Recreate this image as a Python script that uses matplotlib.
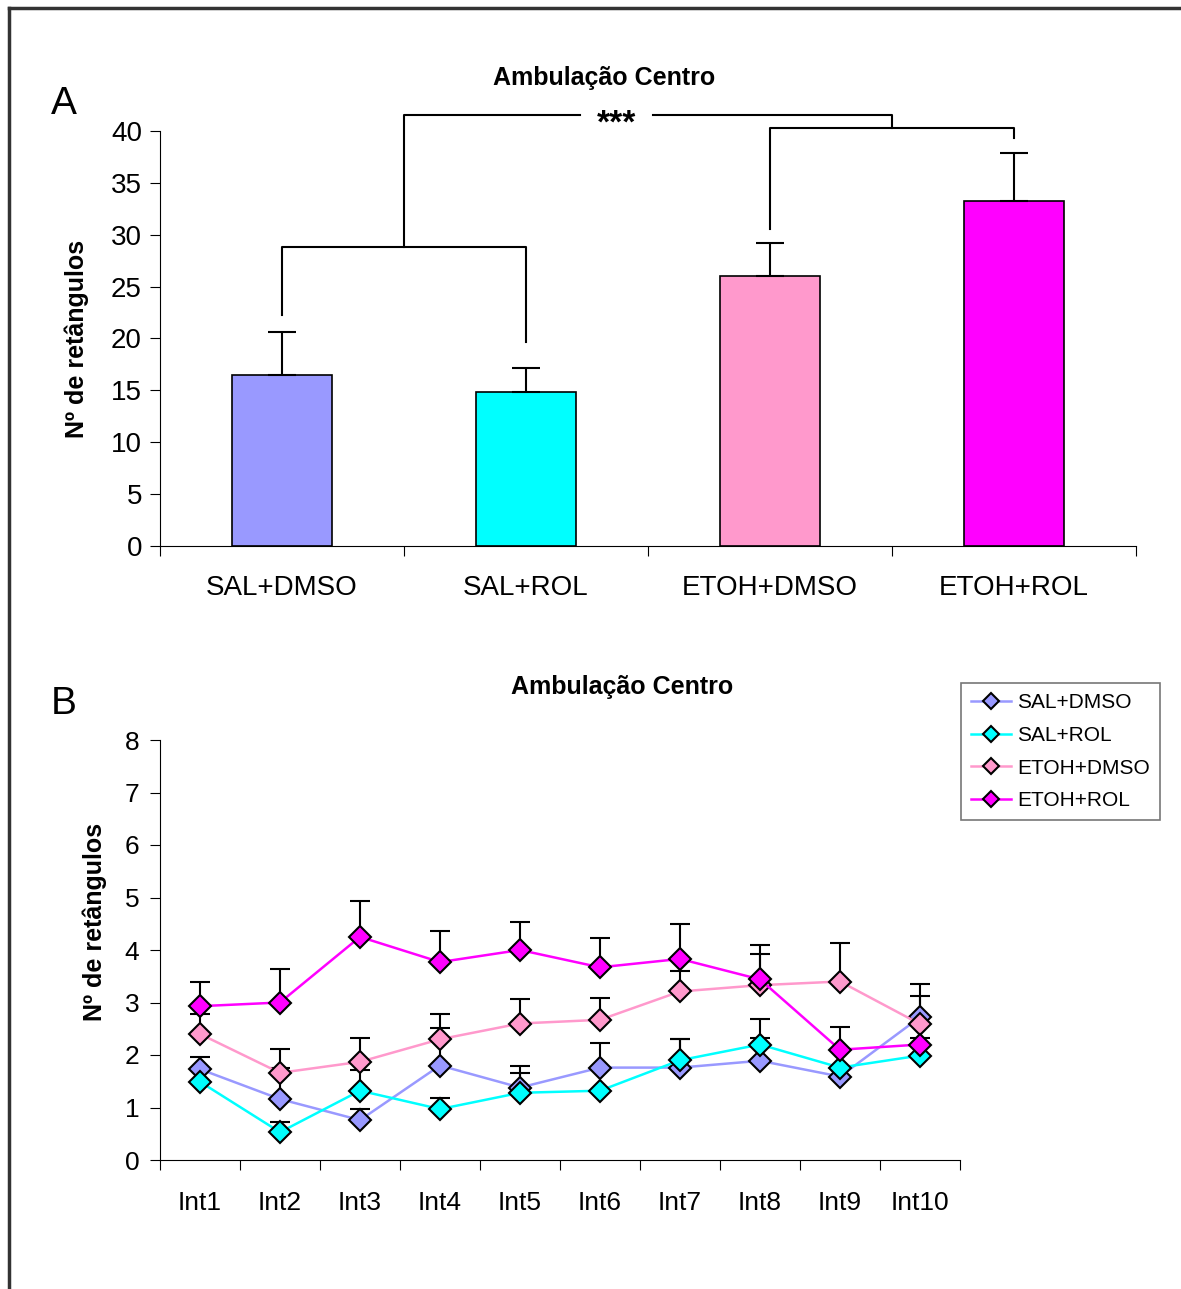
import numpy as np
import matplotlib.pyplot as plt
from matplotlib.lines import Line2D

plt.rcParams['font.family'] = ['Liberation Sans', 'DejaVu Sans']

# dados painel A
grupos = ["SAL+DMSO", "SAL+ROL", "ETOH+DMSO", "ETOH+ROL"]
medias_a = [16.5, 14.8, 26.0, 33.25]
erros_a = [4.1, 2.4, 3.2, 4.6]
cores = ["#9999FF", "#00FFFF", "#FF99CC", "#FF00FF"]

# dados painel B
intervalos = ["Int1", "Int2", "Int3", "Int4", "Int5", "Int6", "Int7", "Int8", "Int9", "Int10"]
sal_dmso = [1.73, 1.16, 0.76, 1.80, 1.38, 1.76, 1.76, 1.89, 1.59, 2.72]
sal_dmso_err = [0.24, 0.59, 0.22, 0.72, 0.41, 0.46, 0.55, 0.44, 0.0, 0.63]
sal_rol = [1.49, 0.53, 1.32, 0.97, 1.28, 1.32, 1.90, 2.20, 1.76, 1.99]
sal_rol_err = [0.0, 0.19, 0.39, 0.22, 0.38, 0.0, 0.41, 0.49, 0.0, 0.0]
etoh_dmso = [2.40, 1.66, 1.87, 2.30, 2.60, 2.67, 3.21, 3.33, 3.40, 2.59]
etoh_dmso_err = [0.39, 0.46, 0.46, 0.49, 0.47, 0.42, 0.39, 0.77, 0.74, 0.53]
etoh_rol = [2.93, 3.00, 4.25, 3.77, 4.00, 3.67, 3.83, 3.44, 2.10, 2.20]
etoh_rol_err = [0.47, 0.63, 0.68, 0.59, 0.53, 0.56, 0.67, 0.48, 0.43, 0.13]

fig = plt.figure(figsize=(11.81, 12.89), dpi=100)

# moldura
fig.add_artist(Line2D([9/1181, 9/1181], [0, 1 - 8/1289], color="#333333", lw=2.5))
fig.add_artist(Line2D([9/1181, 1], [1 - 8/1289, 1 - 8/1289], color="#333333", lw=2.5))

#### PAINEL A ####
ax1 = fig.add_axes([160/1181, 1 - 546/1289, 976/1181, 415/1289])
x = np.arange(len(grupos))
ax1.bar(x, medias_a, width=0.41, color=cores, edgecolor="black", linewidth=1.2, zorder=2)
ax1.errorbar(x, medias_a, yerr=[np.zeros(4), erros_a], fmt="none", ecolor="black",
             elinewidth=1.5, capsize=10, capthick=1.5, zorder=3)
ax1.set_xlim(-0.5, 3.5)
ax1.set_ylim(0, 40)
ax1.set_yticks(range(0, 41, 5))
ax1.set_xticks([-0.5, 0.5, 1.5, 2.5, 3.5])
ax1.set_xticklabels([])
ax1.set_xticks(x, minor=True)
ax1.set_xticklabels(grupos, minor=True, fontsize=20)
ax1.tick_params(axis="x", which="minor", length=0, pad=21)
ax1.tick_params(axis="x", which="major", length=7, direction="out")
ax1.tick_params(axis="y", labelsize=20, length=7, direction="out", pad=6)
for s in ["top", "right"]:
    ax1.spines[s].set_visible(False)
ax1.set_ylabel("Nº de retângulos", fontsize=18, fontweight="bold")
ax1.yaxis.set_label_coords(-0.073, 0.50)
ax1.set_title("Ambulação Centro", fontsize=18, fontweight="bold", pad=33, x=0.455)

# chaves de significancia
kw = dict(color="black", lw=1.5, clip_on=False)
ax1.plot([0, 0, 1, 1], [22.3, 28.8, 28.8, 19.7], **kw)
ax1.plot([2, 2, 3, 3], [30.6, 40.3, 40.3, 39.3], **kw)
ax1.plot([0.5, 0.5, 1.22], [28.8, 41.5, 41.5], **kw)
ax1.plot([1.52, 2.5, 2.5], [41.5, 41.5, 40.3], **kw)
ax1.text(1.37, 40.7, "***", ha="center", va="center", fontsize=24, fontweight="bold")

fig.text(64/1181, 1 - 104/1289, "A", fontsize=28, ha="center", va="center")

#### PAINEL B ####
ax2 = fig.add_axes([160/1181, 1 - 1160/1289, 800/1181, 420/1289])
xb = np.arange(len(intervalos))
series = [
    ("SAL+DMSO", sal_dmso, sal_dmso_err, cores[0]),
    ("SAL+ROL", sal_rol, sal_rol_err, cores[1]),
    ("ETOH+DMSO", etoh_dmso, etoh_dmso_err, cores[2]),
    ("ETOH+ROL", etoh_rol, etoh_rol_err, cores[3]),
]
for nome, vals, errs, cor in series:
    ax2.errorbar(xb, vals, yerr=[np.zeros(len(errs)), errs], fmt="none", ecolor="black",
                 elinewidth=1.5, capsize=7, capthick=1.5, zorder=2)
for nome, vals, errs, cor in series:
    ax2.plot(xb, vals, color=cor, lw=1.8, marker="D", markersize=11,
             markerfacecolor=cor, markeredgecolor="black", markeredgewidth=1.5,
             label=nome, zorder=3)

ax2.set_xlim(-0.5, 9.5)
ax2.set_ylim(0, 8)
ax2.set_yticks(range(0, 9))
ax2.set_xticks(np.arange(-0.5, 10, 1))
ax2.set_xticklabels([])
ax2.set_xticks(xb, minor=True)
ax2.set_xticklabels(intervalos, minor=True, fontsize=19)
ax2.tick_params(axis="x", which="minor", length=0, pad=22)
ax2.tick_params(axis="x", which="major", length=7, direction="out")
ax2.tick_params(axis="y", labelsize=19, length=7, direction="out", pad=8)
for s in ["top", "right"]:
    ax2.spines[s].set_visible(False)
ax2.set_ylabel("Nº de retângulos", fontsize=18, fontweight="bold")
ax2.yaxis.set_label_coords(-0.066, 0.567)
ax2.set_title("Ambulação Centro", fontsize=18, fontweight="bold", pad=33, x=0.578)

leg = ax2.legend(loc="upper left", bbox_to_anchor=(961/1181, 1 - 683/1289),
                 bbox_transform=fig.transFigure, fontsize=15, frameon=True,
                 fancybox=False, edgecolor="#555555", handlelength=1.9,
                 labelspacing=0.65, borderpad=0.5, handletextpad=0.3,
                 markerscale=0.75, borderaxespad=0)
leg.get_frame().set_linewidth(1.2)

fig.text(64/1181, 1 - 704/1289, "B", fontsize=28, ha="center", va="center")

plt.savefig("out.png", dpi=100)
